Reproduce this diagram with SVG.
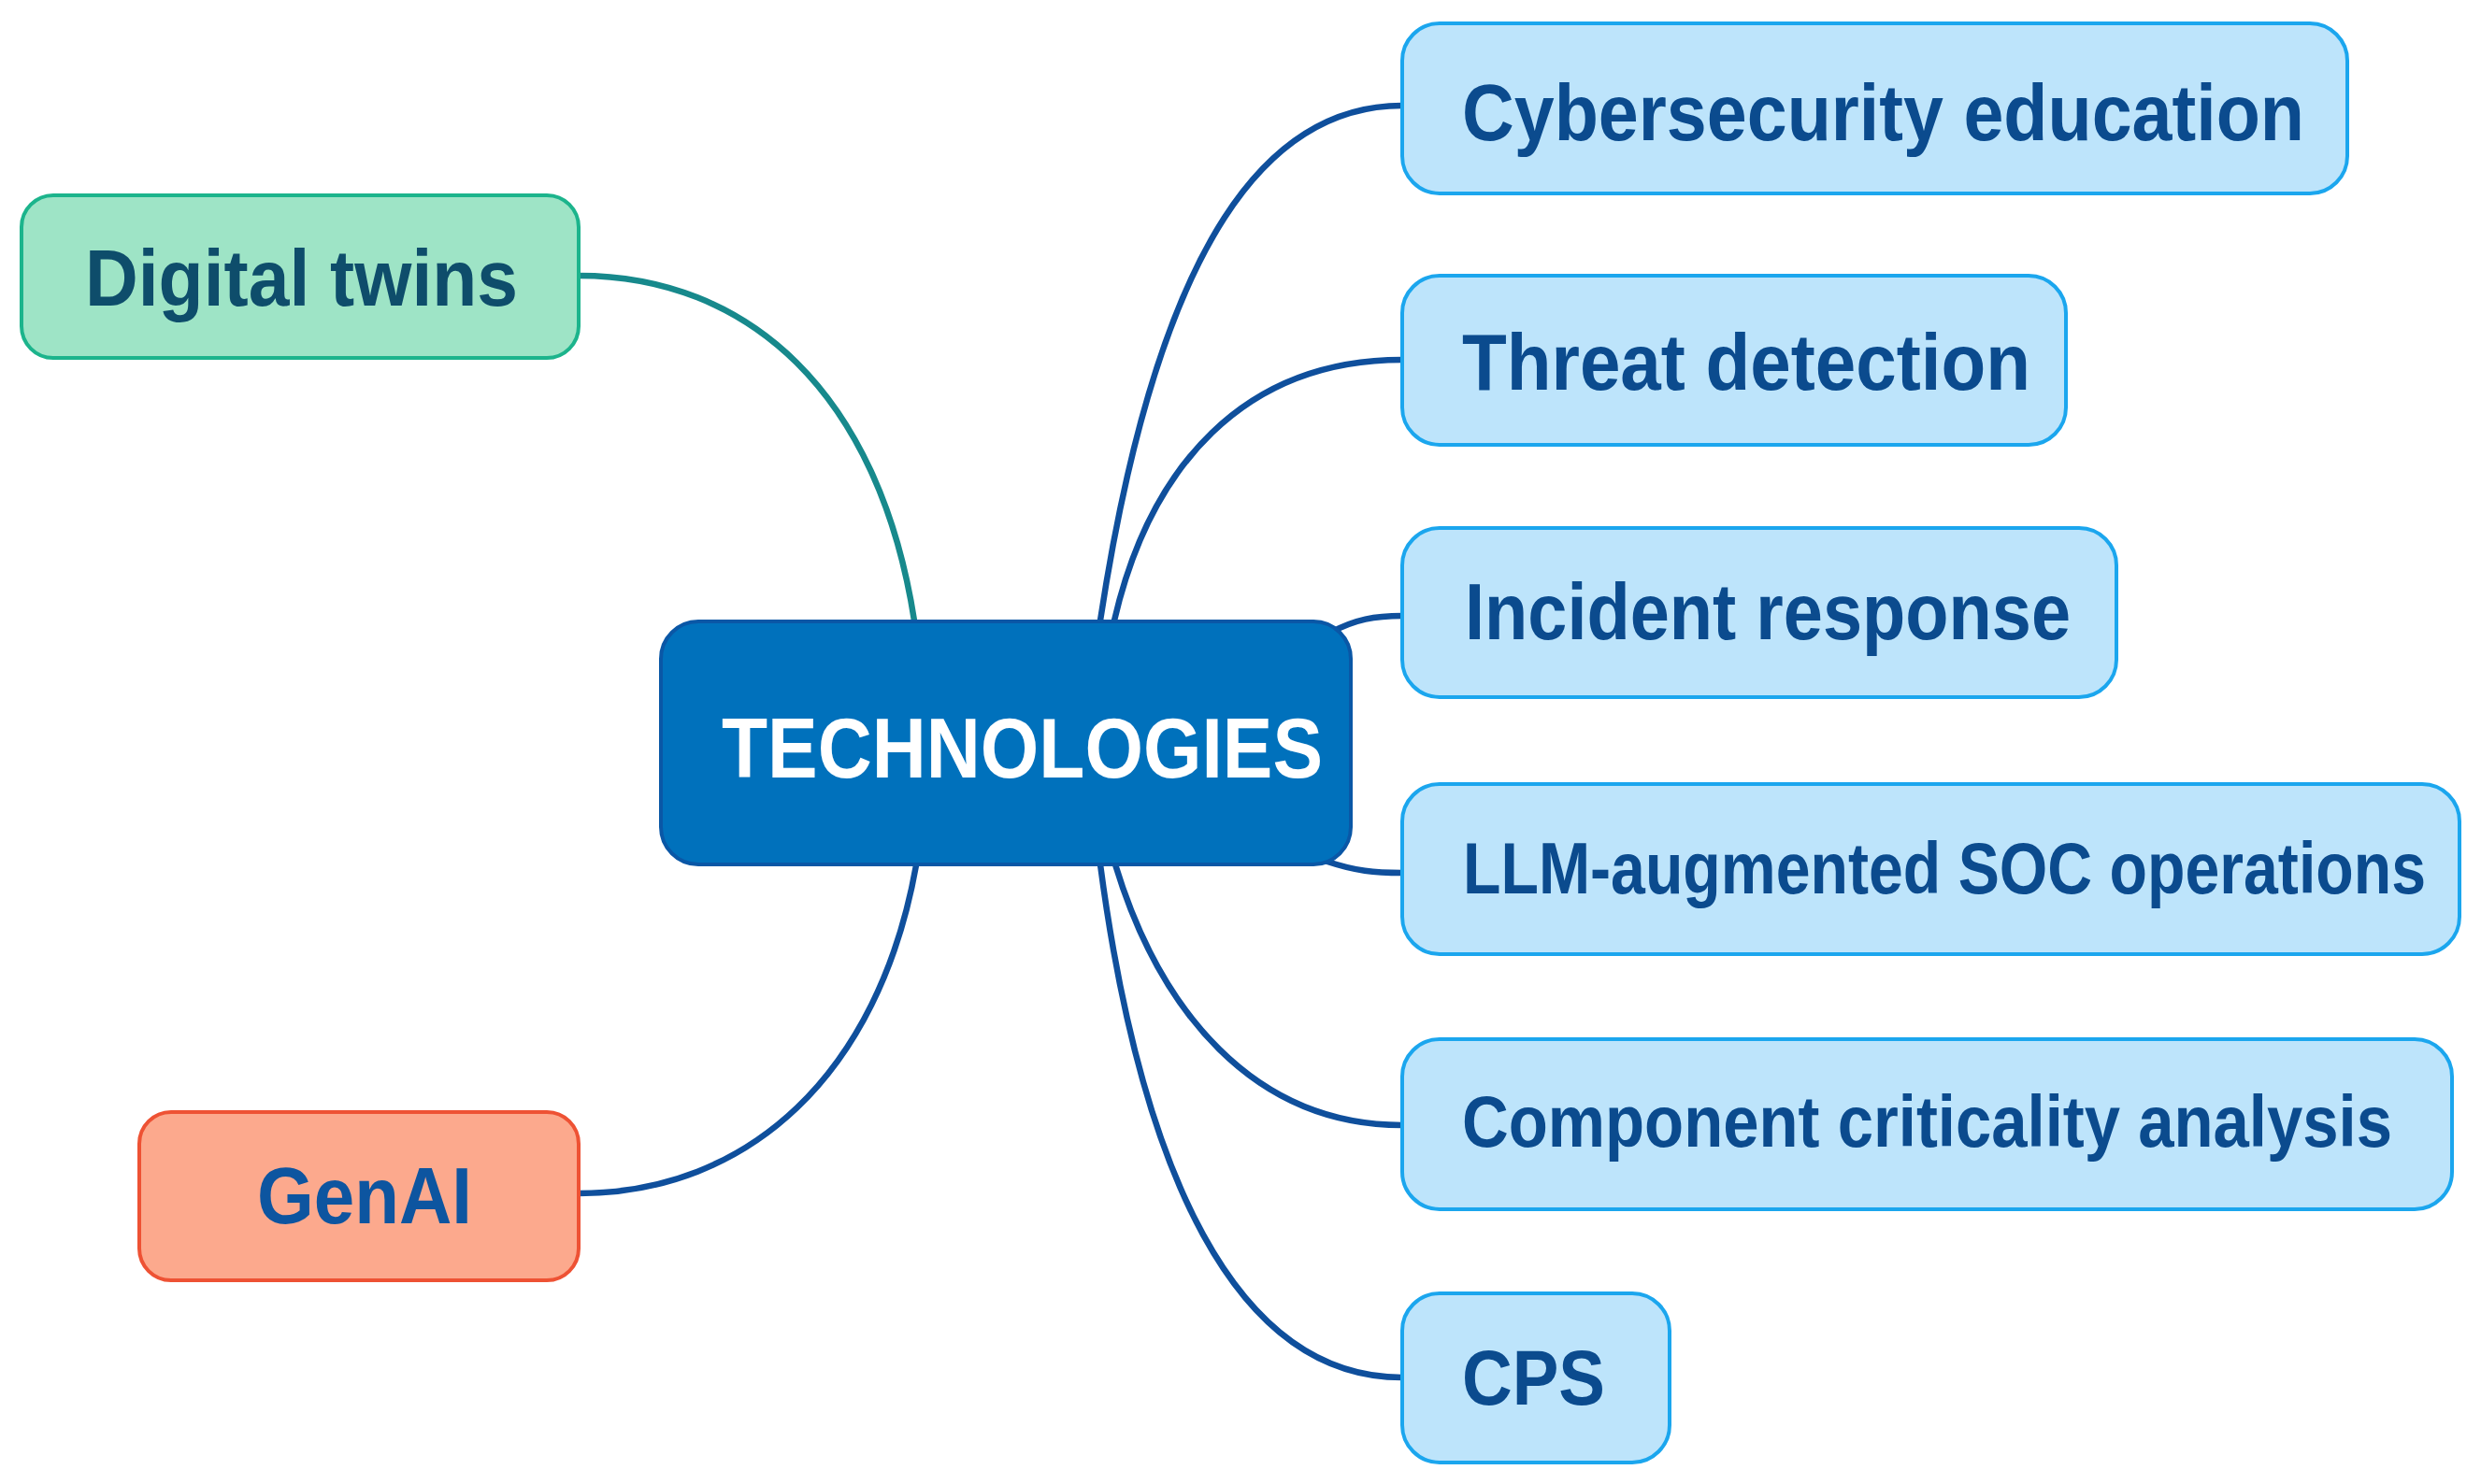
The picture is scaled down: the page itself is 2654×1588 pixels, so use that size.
<svg xmlns="http://www.w3.org/2000/svg" width="2654" height="1588" viewBox="0 0 2654 1588">
<style>
.bg{fill:#ffffff}
.edge{fill:none;stroke:#0F4F9C;stroke-width:6.5;stroke-linecap:round}
.edge.teal{stroke:#17898C}
.leaf rect{fill:#BDE4FB;stroke:#1BA6EE;stroke-width:4}
.leaf text{fill:#0B4B8E}
.lbl{font-family:"Liberation Sans",Arial,sans-serif;font-weight:bold}
</style>
<rect class="bg" x="0" y="0" width="2654" height="1588"/>
<g id="connectors">
  <path class="edge teal" d="M619,295 C800,295 940,420 978,664"/>
  <path class="edge" d="M619,1277 C800,1277 940,1150 980,926"/>
  <path class="edge" d="M1177,664 C1240,250 1360,113 1500,113"/>
  <path class="edge" d="M1192,664 C1230,500 1330,385 1500,385"/>
  <path class="edge" d="M1425,676 C1450,663 1470,659 1500,659"/>
  <path class="edge" d="M1420,922 C1450,932 1470,934 1500,934"/>
  <path class="edge" d="M1193,925 C1240,1080 1340,1204 1500,1204"/>
  <path class="edge" d="M1177,925 C1220,1250 1320,1474 1500,1474"/>
</g>
<g id="node-technologies">
  <rect x="707" y="665" width="738" height="260" rx="40" fill="#0071BC" stroke="#0A57A6" stroke-width="4"/>
  <text class="lbl" x="772" y="832" font-size="91" fill="#ffffff" textLength="643" lengthAdjust="spacingAndGlyphs">TECHNOLOGIES</text>
</g>
<g id="node-digital-twins">
  <rect x="23" y="209" width="596" height="174" rx="34" fill="#9EE4C6" stroke="#1CB48C" stroke-width="4"/>
  <text class="lbl" x="91" y="327" font-size="86" fill="#0E4D6B" textLength="463" lengthAdjust="spacingAndGlyphs">Digital twins</text>
</g>
<g id="node-genai">
  <rect x="149" y="1190" width="470" height="180" rx="34" fill="#FCA98D" stroke="#EE5234" stroke-width="4"/>
  <text class="lbl" x="275" y="1309" font-size="86" fill="#0D55A0" textLength="230" lengthAdjust="spacingAndGlyphs">GenAI</text>
</g>
<g id="node-cyber-education" class="leaf">
  <rect x="1500" y="25" width="1011" height="182" rx="40"/>
  <text class="lbl" x="1564" y="150" font-size="85" textLength="901" lengthAdjust="spacingAndGlyphs">Cybersecurity education</text>
</g>
<g id="node-threat-detection" class="leaf">
  <rect x="1500" y="295" width="710" height="181" rx="40"/>
  <text class="lbl" x="1564" y="417" font-size="85" textLength="608" lengthAdjust="spacingAndGlyphs">Threat detection</text>
</g>
<g id="node-incident-response" class="leaf">
  <rect x="1500" y="565" width="764" height="181" rx="40"/>
  <text class="lbl" x="1567" y="684" font-size="85" textLength="648" lengthAdjust="spacingAndGlyphs">Incident response</text>
</g>
<g id="node-llm-soc" class="leaf">
  <rect x="1500" y="839" width="1131" height="182" rx="40"/>
  <text class="lbl" x="1565" y="956" font-size="78" textLength="1030" lengthAdjust="spacingAndGlyphs">LLM-augmented SOC operations</text>
</g>
<g id="node-component-criticality" class="leaf">
  <rect x="1500" y="1112" width="1123" height="182" rx="40"/>
  <text class="lbl" x="1564" y="1227" font-size="77" textLength="995" lengthAdjust="spacingAndGlyphs">Component criticality analysis</text>
</g>
<g id="node-cps" class="leaf">
  <rect x="1500" y="1384" width="286" height="181" rx="40"/>
  <text class="lbl" x="1564" y="1503" font-size="84" textLength="153" lengthAdjust="spacingAndGlyphs">CPS</text>
</g>
</svg>
